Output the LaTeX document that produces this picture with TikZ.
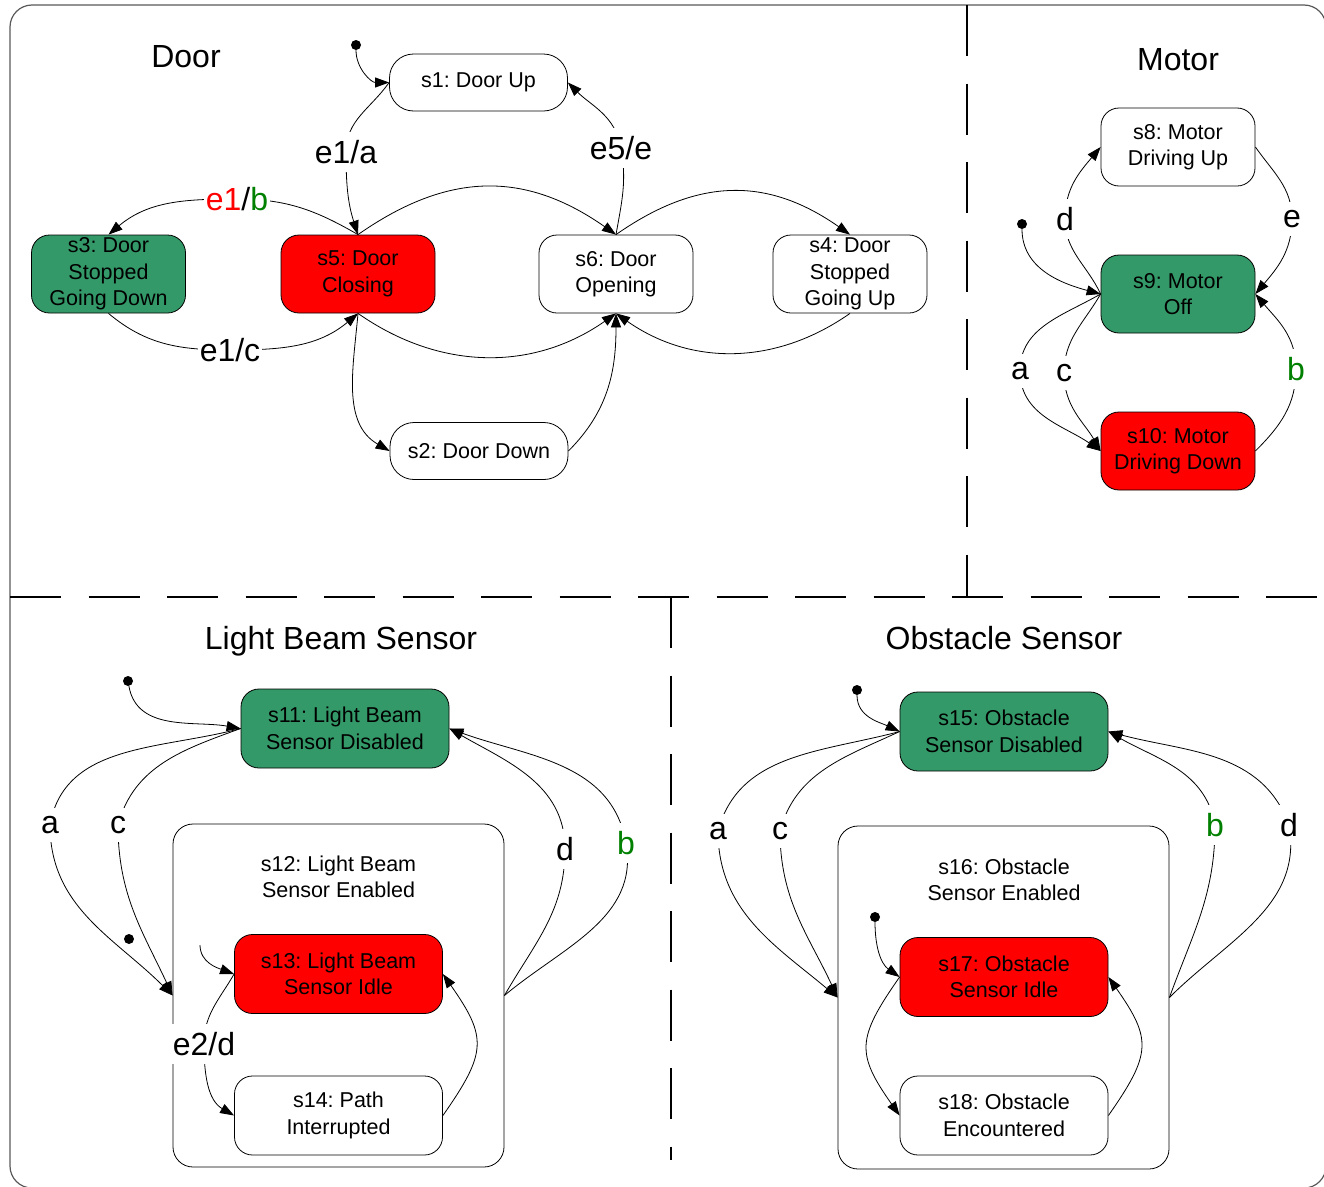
\documentclass[tikz,border=0pt]{standalone}
\usepackage{fontspec}
\setmainfont{Liberation Sans}
\usetikzlibrary{arrows.meta}
\definecolor{stategreen}{RGB}{52,153,104}
\definecolor{statered}{RGB}{255,0,0}
\definecolor{labelgreen}{RGB}{0,128,0}
\newcommand\stfont{\fontsize{21.5}{26.5}\selectfont}
\newcommand\ttlfont{\fontsize{32}{38}\selectfont}
\frenchspacing
\begin{document}
\begin{tikzpicture}[x=1pt,y=1pt,
  st/.style={draw=black, line width=0.8pt, rounded corners=18pt, align=center,
    font=\stfont, inner sep=0pt, minimum width=154pt, minimum height=78pt},
  wide/.style={minimum width=208pt, minimum height=79pt},
  pill/.style={rounded corners=24pt, minimum width=178pt, minimum height=57pt},
  gstate/.style={fill=stategreen},
  rstate/.style={fill=statered},
  cont/.style={draw=black, line width=0.8pt, rounded corners=20pt,
    minimum width=331pt, minimum height=343pt, inner sep=0pt},
  ctext/.style={align=center, font=\stfont, inner sep=0pt},
  ttl/.style={font=\ttlfont, inner sep=0pt, anchor=base},
  lbl/.style={font=\ttlfont, fill=white, inner xsep=2pt, inner ysep=8pt},
  tr/.style={line width=0.8pt, -{Triangle[length=14pt,width=10pt]}},
  idot/.style={circle, fill=black, inner sep=0pt, minimum size=10pt},
  divider/.style={line width=2.6pt, dash pattern=on 51pt off 27.5pt},
]
\useasboundingbox (0,0) rectangle (1324,-1186);

% outer frame and region dividers
\draw[black!65, line width=1.2pt, rounded corners=22pt] (10,-5) rectangle (1326,-1188);
\draw[divider] (967,-5) -- (967,-597);
\draw[divider] (10,-597) -- (1324,-597);
\draw[divider] (671,-597) -- (671,-1160);

% region titles
\node[ttl] (tdoor) at (186,-67) {Door};
\node[ttl] (tmotor) at (1178,-70) {Motor};
\node[ttl] (tlight) at (341,-649) {Light Beam Sensor};
\node[ttl] (tobst) at (1004,-649) {Obstacle Sensor};

% ---------------- Door ----------------
\node[st,pill] (s1) at (478.5,-82.5) {s1: Door Up};
\node[st,pill] (s2) at (479,-451) {s2: Door Down};
\node[st,gstate] (s3) at (108.5,-274) {s3: Door\\Stopped\\Going Down};
\node[st,rstate] (s5) at (358,-274) {s5: Door\\Closing};
\node[st] (s6) at (616,-274) {s6: Door\\Opening};
\node[st] (s4) at (850,-274) {s4: Door\\Stopped\\Going Up};
\node[idot] (i1) at (356,-45) {};

\coordinate (la1) at (346,-152);
\coordinate (la2) at (621,-148);
\coordinate (la3) at (237,-199);
\coordinate (la4) at (230,-350);

\draw[tr] (i1) to[out=-90,in=180] (s1.west);
\draw[tr] (s1.west) to[out=235,in=90] (la1) to[out=-90,in=108] (s5.north);
\draw[tr] (s6.north) to[out=80,in=-80] (la2) to[out=100,in=-45] (s1.east);
\draw[tr] (s5.north) to[out=150,in=0] (la3) to[out=180,in=40] (s3.north);
\draw[tr] (s3.south) to[out=-40,in=180] (la4) to[out=0,in=-140] (s5.south);
\draw[tr] (s5.north) to[out=35,in=145,looseness=1.1] (s6.north);
\draw[tr] (s5.south) to[out=-35,in=-145] (s6.south);
\draw[tr] (s5.south) to[out=-95,in=150] (s2.west);
\draw[tr] (s2.east) to[out=45,in=-90] (s6.south);
\draw[tr] (s6.north) to[out=35,in=145,looseness=1.1] (s4.north);
\draw[tr] (s4.south) to[out=-145,in=-35] (s6.south);

\node[lbl] (ta1) at (la1) {e1/a};
\node[lbl] (ta2) at (la2) {e5/e};
\node[lbl] (ta3) at (la3) {\textcolor{statered}{e1}/\textcolor{labelgreen}{b}};
\node[lbl] (ta4) at (la4) {e1/c};

% ---------------- Motor ----------------
\node[st] (s8) at (1178,-147) {s8: Motor\\Driving Up};
\node[st,gstate] (s9) at (1178,-294) {s9: Motor\\Off};
\node[st,rstate] (s10) at (1178,-451) {s10: Motor\\Driving Down};
\node[idot] (i9) at (1022,-224) {};

\coordinate (lmd) at (1065,-219);
\coordinate (lme) at (1292,-219);
\coordinate (lma) at (1020,-371);
\coordinate (lmc) at (1064,-373);
\coordinate (lmb) at (1296,-369);

\draw[tr] (i9) to[out=-90,in=165] (s9.west);
\draw[tr] (s9.west) to[out=115,in=-90] (lmd) to[out=90,in=-130] (s8.west);
\draw[tr] (s8.east) to[out=-55,in=90] (lme) to[out=-90,in=50] (s9.east);
\draw[tr] (s9.west) to[out=-150,in=90] (lma) to[out=-90,in=145] (s10.west);
\draw[tr] (s9.west) to[out=-120,in=90] (lmc) to[out=-90,in=120] (s10.west);
\draw[tr] (s10.east) to[out=45,in=-90] (lmb) to[out=90,in=-50] (s9.east);

\node[lbl] (tmd) at (lmd) {d};
\node[lbl] (tme) at (lme) {e};
\node[lbl] (tma) at (lma) {a};
\node[lbl] (tmc) at (lmc) {c};
\node[lbl,text=labelgreen] (tmb) at (lmb) {b};

% ---------------- Light Beam Sensor ----------------
\node[st,wide,gstate] (s11) at (345,-728.5) {s11: Light Beam\\Sensor Disabled};
\node[cont] (s12) at (338.5,-995.5) {};
\node[ctext] (s12t) at (338.5,-877) {s12: Light Beam\\Sensor Enabled};
\node[st,wide,rstate] (s13) at (338.5,-974) {s13: Light Beam\\Sensor Idle};
\node[st,wide] (s14) at (338.5,-1115.5) {s14: Path\\Interrupted};
\node[idot] (i11) at (128,-681) {};
\node[idot] (i12) at (129,-939) {};
\coordinate (c13) at (200,-945);

\coordinate (lla) at (50,-825);
\coordinate (llc) at (118,-825);
\coordinate (lld) at (565,-849);
\coordinate (llb) at (626,-843);
\coordinate (lle) at (204,-1044);

\draw[tr] (i11) to[out=-80,in=170] (s11.west);
\draw[tr] (s11.west) to[out=195,in=80] (lla) to[out=-90,in=135] (s12.west);
\draw[tr] (s11.west) to[out=200,in=75] (llc) to[out=-90,in=115] (s12.west);
\draw[tr] (s12.east) to[out=60,in=-90] (lld) to[out=90,in=-30] (s11.east);
\draw[tr] (s12.east) to[out=40,in=-80] (llb) to[out=100,in=-20] (s11.east);
\draw[tr] (c13) to[out=-90,in=160] (s13.west);
\draw[tr] (s13.west) to[out=-120,in=90] (lle) to[out=-90,in=150] (s14.west);
\draw[tr] (s14.east) to[out=55,in=-55,looseness=1.4] (s13.east);

\node[lbl] (tla) at (lla) {a};
\node[lbl] (tlc) at (llc) {c};
\node[lbl] (tld) at (lld) {d};
\node[lbl,text=labelgreen] (tlb) at (llb) {b};
\node[lbl] (tle) at (lle) {e2/d};

% ---------------- Obstacle Sensor ----------------
\node[st,wide,gstate] (s15) at (1004,-731.5) {s15: Obstacle\\Sensor Disabled};
\node[cont] (s16) at (1003.5,-997.5) {};
\node[ctext] (s16t) at (1004,-880) {s16: Obstacle\\Sensor Enabled};
\node[st,wide,rstate] (s17) at (1004,-977) {s17: Obstacle\\Sensor Idle};
\node[st,wide] (s18) at (1004,-1115.5) {s18: Obstacle\\Encountered};
\node[idot] (i15) at (857,-690) {};
\node[idot] (i17) at (875,-917) {};

\coordinate (loa) at (718,-831);
\coordinate (loc) at (780,-831);
\coordinate (lob) at (1215,-825);
\coordinate (lod) at (1289,-825);

\draw[tr] (i15) to[out=-90,in=155] (s15.west);
\draw[tr] (s15.west) to[out=195,in=75] (loa) to[out=-90,in=140] (s16.west);
\draw[tr] (s15.west) to[out=205,in=75] (loc) to[out=-90,in=115] (s16.west);
\draw[tr] (s16.east) to[out=70,in=-90] (lob) to[out=100,in=-30] (s15.east);
\draw[tr] (s16.east) to[out=45,in=-80] (lod) to[out=110,in=-15] (s15.east);
\draw[tr] (i17) to[out=-90,in=145] (s17.west);
\draw[tr] (s17.west) to[out=-125,in=125,looseness=1.4] (s18.west);
\draw[tr] (s18.east) to[out=55,in=-55,looseness=1.4] (s17.east);

\node[lbl] (toa) at (loa) {a};
\node[lbl] (toc) at (loc) {c};
\node[lbl,text=labelgreen] (tob) at (lob) {b};
\node[lbl] (tod) at (lod) {d};
\end{tikzpicture}
\end{document}
